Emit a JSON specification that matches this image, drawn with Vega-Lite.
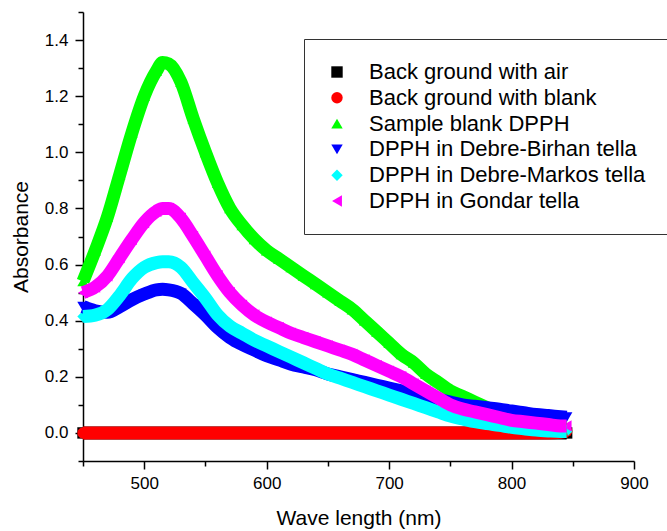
{
  "$schema": "https://vega.github.io/schema/vega-lite/v6.json",
  "width": 551,
  "height": 449,
  "autosize": "none",
  "padding": {"left": 83, "top": 12, "right": 33, "bottom": 70},
  "background": "white",
  "config": {
    "view": {"stroke": null},
    "font": "Liberation Sans",
    "axis": {"grid": false, "domainColor": "black", "tickColor": "black", "domainWidth": 1.5, "tickWidth": 1.5, "labelColor": "black", "titleColor": "black", "titleFontWeight": "normal", "labelFontSize": 17, "titleFontSize": 21, "labelFont": "Liberation Sans", "titleFont": "Liberation Sans", "labelFlush": false},
    "legend": {"labelFont": "Liberation Sans"}
  },
  "datasets": {
    "names": [
      {"s": "K", "name": "Back ground with air"},
      {"s": "R", "name": "Back ground with blank"},
      {"s": "G", "name": "Sample blank DPPH"},
      {"s": "B", "name": "DPPH in Debre-Birhan tella"},
      {"s": "C", "name": "DPPH in Debre-Markos tella"},
      {"s": "M", "name": "DPPH in Gondar tella"}
    ]
  },
  "data": {"values": [
    {"s":"K","w":450,"a":0},{"s":"K","w":460,"a":0},{"s":"K","w":470,"a":0},{"s":"K","w":480,"a":0},{"s":"K","w":490,"a":0},{"s":"K","w":500,"a":0},{"s":"K","w":510,"a":0},{"s":"K","w":515,"a":0},{"s":"K","w":520,"a":0},{"s":"K","w":530,"a":0},{"s":"K","w":540,"a":0},{"s":"K","w":550,"a":0},{"s":"K","w":560,"a":0},{"s":"K","w":570,"a":0},{"s":"K","w":580,"a":0},{"s":"K","w":590,"a":0},{"s":"K","w":600,"a":0},{"s":"K","w":610,"a":0},{"s":"K","w":620,"a":0},{"s":"K","w":630,"a":0},{"s":"K","w":640,"a":0},{"s":"K","w":650,"a":0},{"s":"K","w":660,"a":0},{"s":"K","w":670,"a":0},{"s":"K","w":680,"a":0},{"s":"K","w":690,"a":0},{"s":"K","w":700,"a":0},{"s":"K","w":710,"a":0},{"s":"K","w":720,"a":0},{"s":"K","w":730,"a":0},{"s":"K","w":740,"a":0},{"s":"K","w":750,"a":0},{"s":"K","w":760,"a":0},{"s":"K","w":770,"a":0},{"s":"K","w":780,"a":0},{"s":"K","w":790,"a":0},{"s":"K","w":800,"a":0},{"s":"K","w":810,"a":0},{"s":"K","w":820,"a":0},{"s":"K","w":830,"a":0},{"s":"K","w":840,"a":0},{"s":"K","w":845,"a":0},
    {"s":"R","w":450,"a":0},{"s":"R","w":460,"a":0},{"s":"R","w":470,"a":0},{"s":"R","w":480,"a":0},{"s":"R","w":490,"a":0},{"s":"R","w":500,"a":0},{"s":"R","w":510,"a":0},{"s":"R","w":515,"a":0},{"s":"R","w":520,"a":0},{"s":"R","w":530,"a":0},{"s":"R","w":540,"a":0},{"s":"R","w":550,"a":0},{"s":"R","w":560,"a":0},{"s":"R","w":570,"a":0},{"s":"R","w":580,"a":0},{"s":"R","w":590,"a":0},{"s":"R","w":600,"a":0},{"s":"R","w":610,"a":0},{"s":"R","w":620,"a":0},{"s":"R","w":630,"a":0},{"s":"R","w":640,"a":0},{"s":"R","w":650,"a":0},{"s":"R","w":660,"a":0},{"s":"R","w":670,"a":0},{"s":"R","w":680,"a":0},{"s":"R","w":690,"a":0},{"s":"R","w":700,"a":0},{"s":"R","w":710,"a":0},{"s":"R","w":720,"a":0},{"s":"R","w":730,"a":0},{"s":"R","w":740,"a":0},{"s":"R","w":750,"a":0},{"s":"R","w":760,"a":0},{"s":"R","w":770,"a":0},{"s":"R","w":780,"a":0},{"s":"R","w":790,"a":0},{"s":"R","w":800,"a":0},{"s":"R","w":810,"a":0},{"s":"R","w":820,"a":0},{"s":"R","w":830,"a":0},{"s":"R","w":840,"a":0.002},{"s":"R","w":845,"a":0.006},
    {"s":"G","w":450,"a":0.54},{"s":"G","w":460,"a":0.65},{"s":"G","w":470,"a":0.77},{"s":"G","w":480,"a":0.92},{"s":"G","w":490,"a":1.07},{"s":"G","w":500,"a":1.2},{"s":"G","w":510,"a":1.29},{"s":"G","w":515,"a":1.32},{"s":"G","w":520,"a":1.315},{"s":"G","w":530,"a":1.25},{"s":"G","w":540,"a":1.12},{"s":"G","w":550,"a":1.0},{"s":"G","w":560,"a":0.89},{"s":"G","w":570,"a":0.8},{"s":"G","w":580,"a":0.74},{"s":"G","w":590,"a":0.69},{"s":"G","w":600,"a":0.65},{"s":"G","w":610,"a":0.62},{"s":"G","w":620,"a":0.59},{"s":"G","w":630,"a":0.56},{"s":"G","w":640,"a":0.53},{"s":"G","w":650,"a":0.5},{"s":"G","w":660,"a":0.47},{"s":"G","w":670,"a":0.44},{"s":"G","w":680,"a":0.4},{"s":"G","w":690,"a":0.36},{"s":"G","w":700,"a":0.32},{"s":"G","w":710,"a":0.28},{"s":"G","w":720,"a":0.25},{"s":"G","w":730,"a":0.21},{"s":"G","w":740,"a":0.18},{"s":"G","w":750,"a":0.15},{"s":"G","w":760,"a":0.13},{"s":"G","w":770,"a":0.11},{"s":"G","w":780,"a":0.09},{"s":"G","w":790,"a":0.07},{"s":"G","w":800,"a":0.06},{"s":"G","w":810,"a":0.05},{"s":"G","w":820,"a":0.04},{"s":"G","w":830,"a":0.03},{"s":"G","w":840,"a":0.02},{"s":"G","w":845,"a":0.02},
    {"s":"B","w":450,"a":0.45},{"s":"B","w":460,"a":0.435},{"s":"B","w":470,"a":0.43},{"s":"B","w":480,"a":0.45},{"s":"B","w":490,"a":0.475},{"s":"B","w":500,"a":0.495},{"s":"B","w":510,"a":0.51},{"s":"B","w":515,"a":0.512},{"s":"B","w":520,"a":0.51},{"s":"B","w":530,"a":0.497},{"s":"B","w":540,"a":0.46},{"s":"B","w":550,"a":0.42},{"s":"B","w":560,"a":0.375},{"s":"B","w":570,"a":0.34},{"s":"B","w":580,"a":0.315},{"s":"B","w":590,"a":0.295},{"s":"B","w":600,"a":0.275},{"s":"B","w":610,"a":0.26},{"s":"B","w":620,"a":0.245},{"s":"B","w":630,"a":0.235},{"s":"B","w":640,"a":0.225},{"s":"B","w":650,"a":0.21},{"s":"B","w":660,"a":0.2},{"s":"B","w":670,"a":0.19},{"s":"B","w":680,"a":0.18},{"s":"B","w":690,"a":0.17},{"s":"B","w":700,"a":0.16},{"s":"B","w":710,"a":0.15},{"s":"B","w":720,"a":0.14},{"s":"B","w":730,"a":0.13},{"s":"B","w":740,"a":0.12},{"s":"B","w":750,"a":0.11},{"s":"B","w":760,"a":0.1},{"s":"B","w":770,"a":0.095},{"s":"B","w":780,"a":0.09},{"s":"B","w":790,"a":0.085},{"s":"B","w":800,"a":0.078},{"s":"B","w":810,"a":0.072},{"s":"B","w":820,"a":0.066},{"s":"B","w":830,"a":0.062},{"s":"B","w":840,"a":0.058},{"s":"B","w":845,"a":0.056},
    {"s":"C","w":450,"a":0.415},{"s":"C","w":460,"a":0.42},{"s":"C","w":470,"a":0.44},{"s":"C","w":480,"a":0.49},{"s":"C","w":490,"a":0.55},{"s":"C","w":500,"a":0.59},{"s":"C","w":510,"a":0.607},{"s":"C","w":515,"a":0.61},{"s":"C","w":520,"a":0.61},{"s":"C","w":530,"a":0.59},{"s":"C","w":540,"a":0.535},{"s":"C","w":550,"a":0.48},{"s":"C","w":560,"a":0.42},{"s":"C","w":570,"a":0.38},{"s":"C","w":580,"a":0.355},{"s":"C","w":590,"a":0.33},{"s":"C","w":600,"a":0.31},{"s":"C","w":610,"a":0.29},{"s":"C","w":620,"a":0.27},{"s":"C","w":630,"a":0.25},{"s":"C","w":640,"a":0.23},{"s":"C","w":650,"a":0.21},{"s":"C","w":660,"a":0.195},{"s":"C","w":670,"a":0.18},{"s":"C","w":680,"a":0.165},{"s":"C","w":690,"a":0.15},{"s":"C","w":700,"a":0.135},{"s":"C","w":710,"a":0.12},{"s":"C","w":720,"a":0.105},{"s":"C","w":730,"a":0.09},{"s":"C","w":740,"a":0.075},{"s":"C","w":750,"a":0.06},{"s":"C","w":760,"a":0.05},{"s":"C","w":770,"a":0.04},{"s":"C","w":780,"a":0.033},{"s":"C","w":790,"a":0.027},{"s":"C","w":800,"a":0.02},{"s":"C","w":810,"a":0.015},{"s":"C","w":820,"a":0.01},{"s":"C","w":830,"a":0.007},{"s":"C","w":840,"a":0.005},{"s":"C","w":845,"a":0.005},
    {"s":"M","w":450,"a":0.5},{"s":"M","w":460,"a":0.52},{"s":"M","w":470,"a":0.56},{"s":"M","w":480,"a":0.625},{"s":"M","w":490,"a":0.69},{"s":"M","w":500,"a":0.75},{"s":"M","w":510,"a":0.79},{"s":"M","w":515,"a":0.8},{"s":"M","w":520,"a":0.8},{"s":"M","w":530,"a":0.765},{"s":"M","w":540,"a":0.7},{"s":"M","w":550,"a":0.63},{"s":"M","w":560,"a":0.56},{"s":"M","w":570,"a":0.5},{"s":"M","w":580,"a":0.455},{"s":"M","w":590,"a":0.42},{"s":"M","w":600,"a":0.395},{"s":"M","w":610,"a":0.375},{"s":"M","w":620,"a":0.355},{"s":"M","w":630,"a":0.34},{"s":"M","w":640,"a":0.325},{"s":"M","w":650,"a":0.31},{"s":"M","w":660,"a":0.295},{"s":"M","w":670,"a":0.28},{"s":"M","w":680,"a":0.26},{"s":"M","w":690,"a":0.24},{"s":"M","w":700,"a":0.22},{"s":"M","w":710,"a":0.2},{"s":"M","w":720,"a":0.175},{"s":"M","w":730,"a":0.15},{"s":"M","w":740,"a":0.125},{"s":"M","w":750,"a":0.1},{"s":"M","w":760,"a":0.085},{"s":"M","w":770,"a":0.075},{"s":"M","w":780,"a":0.065},{"s":"M","w":790,"a":0.055},{"s":"M","w":800,"a":0.045},{"s":"M","w":810,"a":0.04},{"s":"M","w":820,"a":0.035},{"s":"M","w":830,"a":0.03},{"s":"M","w":840,"a":0.025},{"s":"M","w":845,"a":0.025}
  ]},
  "transform": [
    {"lookup": "s", "from": {"data": {"name": "names"}, "key": "s", "fields": ["name"]}}
  ],
  "resolve": {"axis": {"x": "independent", "y": "independent"}},
  "layer": [
    {
      "mark": {"type": "point", "filled": true, "size": 130, "opacity": 1},
      "encoding": {
        "x": {"field": "w", "type": "quantitative", "scale": {"domain": [450, 900], "nice": false, "zero": false},
              "axis": {"orient": "bottom", "values": [500, 600, 700, 800, 900], "title": "Wave length (nm)", "tickSize": 8, "labelPadding": 6, "titlePadding": 16}},
        "y": {"field": "a", "type": "quantitative", "scale": {"domain": [-0.1, 1.5], "nice": false, "zero": false},
              "axis": {"orient": "left", "values": [0, 0.2, 0.4, 0.6, 0.8, 1.0, 1.2, 1.4], "format": ".1f", "title": "Absorbance", "tickSize": 8, "labelPadding": 7, "titlePadding": 13}},
        "color": {"field": "name", "type": "nominal",
                  "scale": {"domain": ["Back ground with air", "Back ground with blank", "Sample blank DPPH", "DPPH in Debre-Birhan tella", "DPPH in Debre-Markos tella", "DPPH in Gondar tella"],
                            "range": ["#000000", "#ff0000", "#00ff00", "#0000ff", "#00ffff", "#ff00ff"]},
                  "legend": {"title": null, "orient": "none", "legendX": 221, "legendY": 27, "labelFontSize": 22, "labelColor": "black", "labelLimit": 500, "symbolSize": 130, "symbolStrokeWidth": 0, "padding": 22, "rowPadding": 3.8, "labelOffset": 21, "strokeColor": "#333333", "fillColor": "white"}},
        "shape": {"field": "name", "type": "nominal",
                  "scale": {"domain": ["Back ground with air", "Back ground with blank", "Sample blank DPPH", "DPPH in Debre-Birhan tella", "DPPH in Debre-Markos tella", "DPPH in Gondar tella"],
                            "range": ["square", "circle", "triangle-up", "triangle-down", "diamond", "triangle-left"]},
                  "legend": {"title": null, "orient": "none", "legendX": 221, "legendY": 27, "labelFontSize": 22, "labelColor": "black", "labelLimit": 500, "symbolSize": 130, "symbolStrokeWidth": 0, "padding": 22, "rowPadding": 3.8, "labelOffset": 21, "strokeColor": "#333333", "fillColor": "white"}}
      }
    },
    {
      "mark": {"type": "line", "strokeWidth": 13, "interpolate": "monotone"},
      "encoding": {
        "x": {"field": "w", "type": "quantitative",
              "axis": {"orient": "bottom", "values": [450, 550, 650, 750, 850], "labels": false, "domain": false, "tickSize": 5, "title": null}},
        "y": {"field": "a", "type": "quantitative",
              "axis": {"orient": "left", "values": [-0.1, 0.1, 0.3, 0.5, 0.7, 0.9, 1.1, 1.3, 1.5], "labels": false, "domain": false, "tickSize": 5, "title": null}},
        "color": {"field": "name", "type": "nominal", "legend": null}
      }
    }
  ]
}
